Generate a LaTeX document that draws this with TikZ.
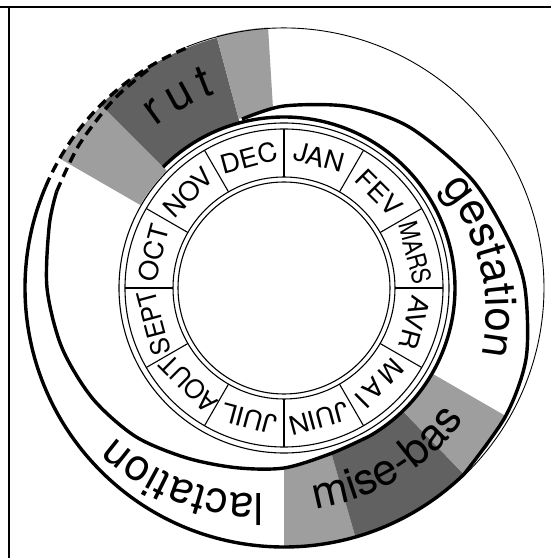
\documentclass[tikz,border=0pt]{standalone}
\usepackage{fontspec}
\setmainfont{TeX Gyre Heros}
\newfontfamily\monthfont[FakeStretch=1.05]{TeX Gyre Heros}
\newfontfamily\rutfont[WordSpace=0.55]{TeX Gyre Heros}
\newcommand\bigfont{\fontsize{44}{44}\selectfont}
\newcommand\rutsize{\rutfont\fontsize{46}{46}\selectfont}
\usetikzlibrary{decorations.text}
\begin{document}
\begin{tikzpicture}[x=1pt,y=1pt,
  thinline/.style={line width=0.9pt},
  ringline/.style={line width=1.1pt},
  thickline/.style={line width=3.4pt, line join=round},
  lightfill/.style={fill=black!38},
  darkfill/.style={fill=black!62},
  monthlabel/.style={font=\monthfont\fontsize{26}{26}\selectfont, inner sep=0pt},
  dashedline/.style={line width=3.4pt, dash pattern=on 10pt off 6pt},
  framerule/.style={line width=1.1pt},
]
\useasboundingbox (0,0) rectangle (551,558);
\coordinate (C) at (284,270);
% frame
\coordinate (fl) at (0,551);
\coordinate (fr) at (551,551);
\coordinate (lt) at (9,551);
\coordinate (lb) at (9,0);
\draw[framerule] (fl) -- (fr);
\draw[framerule] (lt) -- (lb);

\begin{scope}[shift={(284,270)}]
% shaded sectors
\fill[lightfill] (150:166) arc[start angle=150,end angle=135,radius=166] -- (135:258) arc[start angle=135,end angle=150,radius=258] -- cycle;
\fill[darkfill] (135:171) arc[start angle=135,end angle=105,radius=171] -- (105:259) arc[start angle=105,end angle=135,radius=259] -- cycle;
\fill[lightfill] (105:175) -- (105:261) arc[start angle=105,end angle=93.5,radius=261] -- (93.5:180) -- cycle;
\fill[lightfill] (-90:180) -- (-90:260) arc[start angle=-90,end angle=-74,radius=260] -- (-74:172) -- cycle;
\fill[darkfill] (-74:171) -- (-74:260) arc[start angle=-74,end angle=-46,radius=260] -- (-46:171) arc[start angle=-46,end angle=-74,radius=171] -- cycle;
\fill[lightfill] (-46:171) -- (-46:259) -- (-38:258) -- (-30:256) -- (-30:171) arc[start angle=-30,end angle=-46,radius=171] -- cycle;

% month ring
\draw[ringline] (0,0) circle[radius=106];
\draw[ringline] (0,0) circle[radius=111];
\draw[ringline] (0,0) circle[radius=159];
\draw[ringline] (0,0) circle[radius=165];
\foreach \a in {0,30,...,330} \draw[ringline] (\a:111) -- (\a:159);

\node[monthlabel, rotate=-15] (m1) at (75:135) {JAN};
\node[monthlabel, rotate=-45] (m2) at (45:135) {FEV};
\node[monthlabel, rotate=-75, xscale=0.8] (m3) at (15:136) {MARS};
\node[monthlabel, rotate=-105] (m4) at (-15:135) {AVR};
\node[monthlabel, rotate=-135] (m5) at (-45:135) {\addfontfeature{LetterSpace=15}MAI};
\node[monthlabel, rotate=-165] (m6) at (-75:135) {JUIN};
\node[monthlabel, rotate=-195] (m7) at (-105:135) {JUIL};
\node[monthlabel, rotate=-225, xscale=0.92] (m8) at (-135:135) {AOUT};
\node[monthlabel, rotate=-255, xscale=0.92] (m9) at (-165:135) {SEPT};
\node[monthlabel, rotate=75] (m10) at (165:135) {OCT};
\node[monthlabel, rotate=45] (m11) at (135:135) {NOV};
\node[monthlabel, rotate=15] (m12) at (105:135) {DEC};

% outer thin circle
\draw[thinline] (112:260) arc[start angle=112,end angle=-46,radius=260];
% gestation outer spiral
\draw[thickline] plot[smooth] coordinates {(104:174) (90:182) (70:193) (52:204) (30:217) (12:230) (0:241) (-16:252) (-30:256) (-46:259)};
% inner ring and lactation inner spiral
\draw[thickline] (135:171) arc[start angle=135,end angle=-60,radius=171]
  -- plot[smooth] coordinates {(-60:171) (-74:172) (-90:180) (-105:186) (-120:196) (-135:210) (-150:221) (-165:230) (-180:237) (-195:243) (-203:247)};
% lactation outer
\draw[thickline] (-46:259) arc[start angle=-46,end angle=-203,radius=259];
% dashed continuation
\draw[dashedline] (-203:259) arc[start angle=-203,end angle=-248,radius=259];
\draw[dashedline] plot[smooth] coordinates {(-203:247) (-215:250) (-228:254) (-238:257)};

% curved labels
\path[decorate, decoration={text along path, text={|\rutsize|r u t}, text align=center}]
  (179:206) arc[start angle=179,end angle=59,radius=206];
\path[decorate, decoration={text along path, text={|\bigfont|mise-bas}, text align=center}]
  (-119:223) arc[start angle=-119,end angle=1,radius=223];
\end{scope}

\path[decorate, decoration={text along path, text={|\bigfont|gestation}, text align=center}]
  plot[domain=0:120, samples=61, variable=\t] ({284+(169.8+0.44*\t)*cos(70-\t)}, {270+(169.8+0.44*\t)*sin(70-\t)});
\path[decorate, decoration={text along path, text={|\bigfont|lactation}, text align=center}]
  plot[domain=0:120, samples=61, variable=\t] ({284+(188.6+0.44*\t)*cos(-54-\t)}, {270+(188.6+0.44*\t)*sin(-54-\t)});
\end{tikzpicture}
\end{document}
